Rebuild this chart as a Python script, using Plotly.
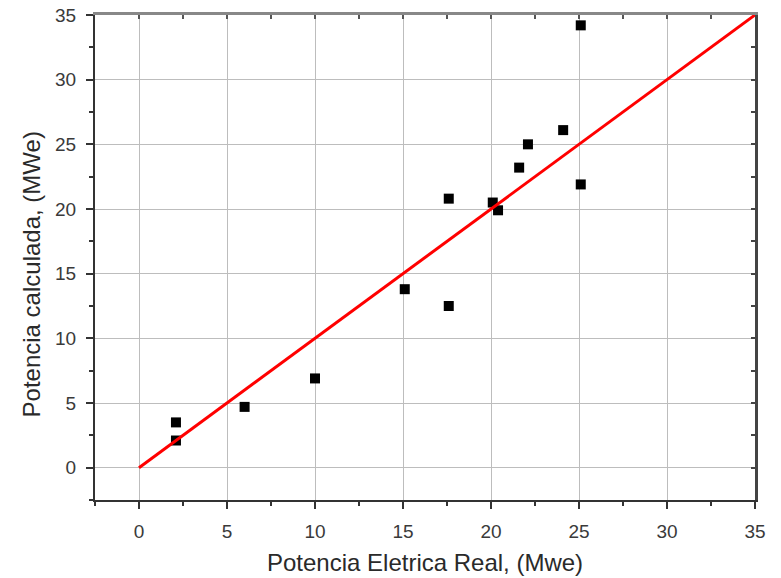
import plotly.graph_objects as go

# Measured (real) vs calculated electric power, MWe
potencia_real = [2.1, 2.1, 6.0, 10.0, 15.1, 17.6, 17.6, 20.1, 20.4, 21.6, 22.1, 24.1, 25.1, 25.1]
potencia_calculada = [3.5, 2.1, 4.7, 6.9, 13.8, 20.8, 12.5, 20.5, 19.9, 23.2, 25.0, 26.1, 34.2, 21.9]

# Identity reference line y = x
linha_x = [0, 35]
linha_y = [0, 35]

tick_vals = [0, 5, 10, 15, 20, 25, 30, 35]
axis_range = [-2.5, 35]

font_family = "Liberation Sans, Arial, sans-serif"

fig = go.Figure()

fig.add_trace(go.Scatter(
    x=potencia_real, y=potencia_calculada, mode="markers",
    marker=dict(symbol="square", size=10, color="black", line=dict(width=0)),
    showlegend=False, cliponaxis=False,
))
fig.add_trace(go.Scatter(
    x=linha_x, y=linha_y, mode="lines",
    line=dict(color="#ff0000", width=3),
    showlegend=False,
))

common = dict(
    range=axis_range, tickmode="array", tickvals=tick_vals,
    automargin=False,
    showgrid=True, gridcolor="#bdbdbd", gridwidth=1.3,
    zeroline=False, showline=True, linecolor="#333333", linewidth=2,
    ticks="outside", ticklen=7, tickwidth=1.5, tickcolor="#333333",
    tickfont=dict(family=font_family, size=19, color="#3a3a3a"),
    ticklabelstandoff=6,
    minor=dict(tickvals=[-2.5, 2.5, 7.5, 12.5, 17.5, 22.5, 27.5, 32.5],
               ticks="outside", ticklen=4, tickwidth=1.5, tickcolor="#333333",
               showgrid=False),
)

mirror_ticks = [-2.5, 0, 2.5, 5, 7.5, 10, 12.5, 15, 17.5, 20, 22.5, 25, 27.5, 30, 32.5, 35]

fig.update_layout(
    width=781, height=578,
    margin=dict(l=95, r=26, t=15, b=78),
    paper_bgcolor="white", plot_bgcolor="white",
    xaxis=dict(**common),
    yaxis=dict(**common),
    # Frame on the top and right with inward ticks
    xaxis2=dict(range=axis_range, overlaying="x", side="top", automargin=False,
                tickmode="array", tickvals=mirror_ticks,
                ticks="inside", ticklen=4, tickwidth=1.5, tickcolor="#555555",
                showticklabels=False, showgrid=False, zeroline=False,
                showline=True, linecolor="#888888", linewidth=2.5),
    yaxis2=dict(range=axis_range, overlaying="y", side="right", automargin=False,
                tickmode="array", tickvals=mirror_ticks,
                ticks="inside", ticklen=4, tickwidth=1.5, tickcolor="#444444",
                showticklabels=False, showgrid=False, zeroline=False,
                showline=True, linecolor="#444444", linewidth=2.5),
    annotations=[
        dict(text="Potencia Eletrica Real, (Mwe)", xref="paper", yref="paper",
             x=0.5, y=-0.128, xanchor="center", yanchor="middle", showarrow=False,
             font=dict(family=font_family, size=24, color="#2a2a2a")),
        dict(text="Potencia calculada, (MWe)", xref="paper", yref="paper",
             x=-0.097, y=0.465, xanchor="center", yanchor="middle", showarrow=False,
             textangle=-90,
             font=dict(family=font_family, size=24, color="#2a2a2a")),
    ],
)

# Invisible trace binds the mirror axes so they are drawn
fig.add_trace(go.Scatter(x=[None], y=[None], xaxis="x2", yaxis="y2",
                         showlegend=False, hoverinfo="skip"))

fig.write_html("out.html")
